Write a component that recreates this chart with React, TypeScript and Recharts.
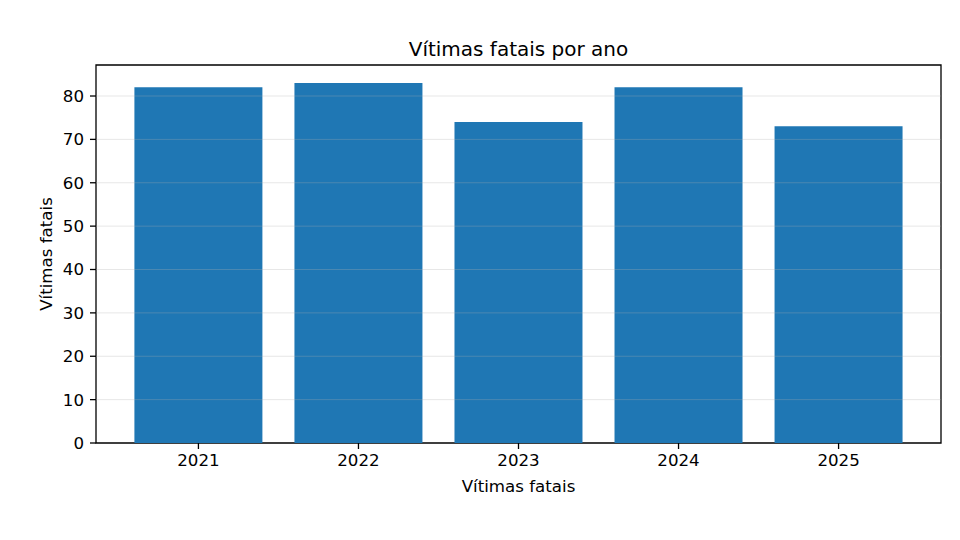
import React from "react";
import { BarChart, Bar, XAxis, YAxis, ReferenceLine, ReferenceArea } from "recharts";

const years = ["2021", "2022", "2023", "2024", "2025"];
const fatalities = [82, 83, 74, 82, 73];
const yTicks = [0, 10, 20, 30, 40, 50, 60, 70, 80];

const data = years.map((year, i) => ({ x: i, year, value: fatalities[i] }));

const X_DOMAIN: [number, number] = [-0.64, 4.64];
const Y_DOMAIN: [number, number] = [0, 87.15];
const FONT = "DejaVu Sans, sans-serif";

export default function App() {
  const tickStyle = { fill: "#000", fontSize: 16.67, fontFamily: FONT };

  return (
    <div style={{ position: "relative", width: 960, height: 540, background: "#fff", fontFamily: FONT }}>
      <style>{`body{margin:0}`}</style>
      {/* título */}
      <div style={{ position: "absolute", top: 37, left: 96, width: 845, textAlign: "center", fontSize: 20, lineHeight: "24px", color: "#000" }}>
        Vítimas fatais por ano
      </div>
      <BarChart
        width={960}
        height={540}
        data={data}
        margin={{ top: 65, right: 19, left: 0, bottom: 0 }}
      >
        <XAxis
          dataKey="x"
          type="number"
          domain={X_DOMAIN}
          ticks={[0, 1, 2, 3, 4]}
          tickFormatter={(v) => years[v] ?? ""}
          height={97}
          tick={tickStyle}
          tickSize={6}
          tickMargin={5}
          tickLine={{ stroke: "#000", strokeWidth: 1.3 }}
          axisLine={false}
          allowDataOverflow
        />
        <YAxis
          type="number"
          domain={Y_DOMAIN}
          ticks={yTicks}
          width={96}
          tick={tickStyle}
          tickSize={6}
          tickMargin={6}
          tickLine={{ stroke: "#000", strokeWidth: 1.3 }}
          axisLine={false}
          allowDataOverflow
        />
        <Bar dataKey="value" fill="#1f77b4" barSize={128} isAnimationActive={false} />
        {/* grade por cima das barras */}
        {yTicks.slice(1).map((t) => (
          <ReferenceLine key={t} y={t} stroke="#b0b0b0" strokeOpacity={0.3} strokeWidth={1} />
        ))}
        <ReferenceArea
          x1={X_DOMAIN[0]}
          x2={X_DOMAIN[1]}
          y1={Y_DOMAIN[0]}
          y2={Y_DOMAIN[1]}
          fill="none"
          fillOpacity={0}
          stroke="#000"
          strokeWidth={1.3}
        />
      </BarChart>
      {/* rótulos dos eixos */}
      <div style={{ position: "absolute", top: 477, left: 96, width: 845, textAlign: "center", fontSize: 16.67, lineHeight: "20px", color: "#000" }}>
        Vítimas fatais
      </div>
      <div
        style={{
          position: "absolute",
          left: 47,
          top: 254,
          transform: "translate(-50%, -50%) rotate(-90deg)",
          whiteSpace: "nowrap",
          fontSize: 16.67,
          lineHeight: "20px",
          color: "#000",
        }}
      >
        Vítimas fatais
      </div>
    </div>
  );
}
